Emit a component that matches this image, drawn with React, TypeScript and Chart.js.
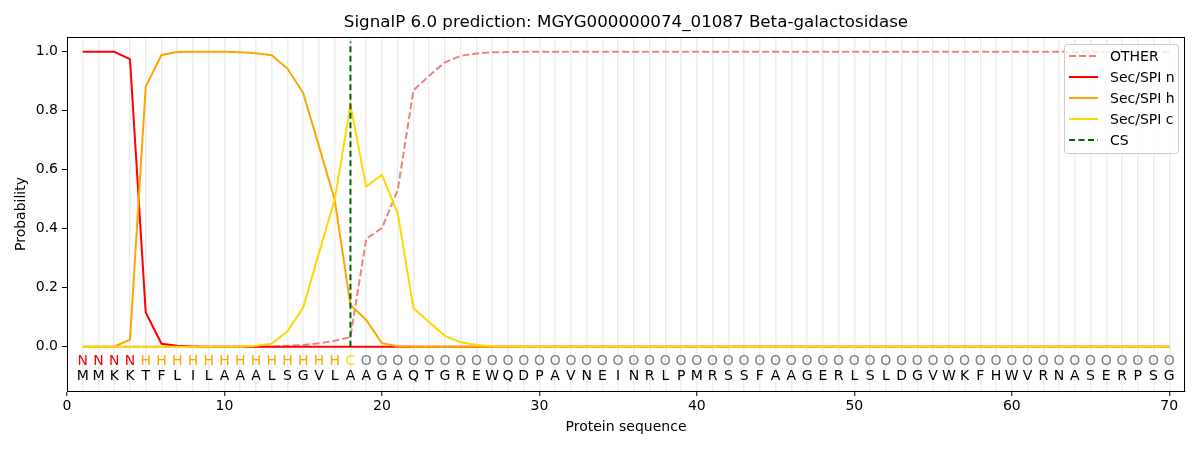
import { useEffect, useRef } from "react";
import { Chart, ChartConfiguration, Plugin, registerables } from "chart.js";
Chart.register(...registerables);

const FONT = "'DejaVu Sans', 'Liberation Sans', sans-serif";

const title = "SignalP 6.0 prediction: MGYG000000074_01087 Beta-galactosidase";

// amino acid sequence, one residue per position 1..70
const sequence = "MMKKTFLILAAALSGVLAAGAQTGREWQDPAVNEINRLPMRSSFAAGERLSLDGVWKFHWVRNASERPSG".split("");

// predicted region per residue
const regions = (
  "NNNNHHHHHHHHHHHHHC" +
  "OOOOOOOOOOOOOOOOOOOOOOOOOOOOOOOOOOOOOOOOOOOOOOOOOOOO"
).split("");

const regionColors: Record<string, string> = {
  N: "#ff0000",
  H: "#ffa500",
  C: "#ffd700",
  O: "#808080",
};

const other = [
  0, 0, 0, 0, 0, 0, 0, 0, 0, 0,
  0, 0, 0.001, 0.003, 0.006, 0.012, 0.02, 0.033, 0.366, 0.402,
  0.53, 0.869, 0.919, 0.964, 0.986, 0.994, 0.998, 0.999, 1, 1,
  1, 1, 1, 1, 1, 1, 1, 1, 1, 1,
  1, 1, 1, 1, 1, 1, 1, 1, 1, 1,
  1, 1, 1, 1, 1, 1, 1, 1, 1, 1,
  1, 1, 1, 1, 1, 1, 1, 1, 1, 1,
];

const secN = [
  1, 1, 1, 0.975, 0.116, 0.01, 0.003, 0.001, 0, 0,
  0, 0, 0, 0, 0, 0, 0, 0, 0, 0,
  0, 0, 0, 0, 0, 0, 0, 0, 0, 0,
  0, 0, 0, 0, 0, 0, 0, 0, 0, 0,
  0, 0, 0, 0, 0, 0, 0, 0, 0, 0,
  0, 0, 0, 0, 0, 0, 0, 0, 0, 0,
  0, 0, 0, 0, 0, 0, 0, 0, 0, 0,
];

const secH = [
  0, 0, 0, 0.024, 0.882, 0.989, 0.999, 1, 1, 1,
  0.998, 0.995, 0.988, 0.943, 0.86, 0.68, 0.498, 0.142, 0.091, 0.012,
  0.002, 0, 0, 0, 0, 0, 0, 0, 0, 0,
  0, 0, 0, 0, 0, 0, 0, 0, 0, 0,
  0, 0, 0, 0, 0, 0, 0, 0, 0, 0,
  0, 0, 0, 0, 0, 0, 0, 0, 0, 0,
  0, 0, 0, 0, 0, 0, 0, 0, 0, 0,
];

const secC = [
  0, 0, 0, 0, 0, 0, 0, 0, 0, 0,
  0, 0.003, 0.01, 0.052, 0.133, 0.318, 0.498, 0.82, 0.543, 0.583,
  0.453, 0.131, 0.083, 0.037, 0.015, 0.006, 0.002, 0.001, 0, 0,
  0, 0, 0, 0, 0, 0, 0, 0, 0, 0,
  0, 0, 0, 0, 0, 0, 0, 0, 0, 0,
  0, 0, 0, 0, 0, 0, 0, 0, 0, 0,
  0, 0, 0, 0, 0, 0, 0, 0, 0, 0,
];

// cleavage site
const csPosition = 18;
const csSpan = [0, 1.035];

const yTicks = [0, 0.2, 0.4, 0.6, 0.8, 1.0];

const legendItems = [
  { label: "OTHER", color: "#f08080", dash: [7, 3] },
  { label: "Sec/SPI n", color: "#ff0000", dash: [] },
  { label: "Sec/SPI h", color: "#ffa500", dash: [] },
  { label: "Sec/SPI c", color: "#ffd700", dash: [] },
  { label: "CS", color: "#006400", dash: [6, 3.5] },
];

const toPoints = (vals: number[]) => vals.map((y, i) => ({ x: i + 1, y }));

// frame, residue letters, titles and legend
const decorations: Plugin<"line"> = {
  id: "decorations",
  afterDraw(chart) {
    const { ctx, chartArea } = chart;
    const xs = chart.scales.x;
    const ys = chart.scales.y;
    ctx.save();

    // frame (top/right spines)
    ctx.strokeStyle = "#000";
    ctx.lineWidth = 1;
    ctx.strokeRect(chartArea.left + 0.5, chartArea.top + 0.5, chartArea.width - 1, chartArea.height);

    // residue rows
    ctx.font = `14px ${FONT}`;
    ctx.textAlign = "center";
    ctx.textBaseline = "middle";
    sequence.forEach((aa, i) => {
      const px = xs.getPixelForValue(i + 1);
      ctx.fillStyle = regionColors[regions[i]];
      ctx.fillText(regions[i], px, ys.getPixelForValue(-0.05));
      ctx.fillStyle = "#000";
      ctx.fillText(aa, px, ys.getPixelForValue(-0.1));
    });

    // title and axis titles
    const midX = (chartArea.left + chartArea.right) / 2;
    ctx.font = `16.7px ${FONT}`;
    ctx.fillText(title, midX, 23);
    ctx.font = `14px ${FONT}`;
    ctx.fillText("Protein sequence", midX, 427);
    ctx.save();
    ctx.translate(21, (chartArea.top + chartArea.bottom) / 2);
    ctx.rotate(-Math.PI / 2);
    ctx.fillText("Probability", 0, 0);
    ctx.restore();

    // legend
    const bx = chartArea.right - 121;
    const by = chartArea.top + 7;
    const bw = 114;
    const bh = 109;
    ctx.beginPath();
    ctx.roundRect(bx + 0.5, by + 0.5, bw, bh, 3);
    ctx.fillStyle = "rgba(255,255,255,0.8)";
    ctx.fill();
    ctx.strokeStyle = "#cccccc";
    ctx.stroke();
    ctx.textAlign = "left";
    legendItems.forEach((item, i) => {
      const y = by + 12 + i * 21;
      ctx.beginPath();
      ctx.setLineDash(item.dash);
      ctx.strokeStyle = item.color;
      ctx.lineWidth = 2;
      ctx.moveTo(bx + 5, y);
      ctx.lineTo(bx + 34, y);
      ctx.stroke();
      ctx.setLineDash([]);
      ctx.fillStyle = "#000";
      ctx.fillText(item.label, bx + 46, y + 1);
    });
    ctx.restore();
  },
};

const App = () => {
  const canvasRef = useRef<HTMLCanvasElement>(null);
  const chartRef = useRef<Chart<"line"> | null>(null);

  useEffect(() => {
    document.body.style.margin = "0";
    if (chartRef.current) chartRef.current.destroy();
    const ctx = canvasRef.current?.getContext("2d");
    if (!ctx) return;

    const line = (label: string, data: number[], color: string, order: number, dash: number[] = []) => ({
      label,
      data: toPoints(data),
      borderColor: color,
      borderWidth: 2,
      borderDash: dash,
      pointRadius: 0,
      tension: 0,
      order,
    });

    const config: ChartConfiguration<"line"> = {
      type: "line",
      data: {
        datasets: [
          line("OTHER", other, "#f08080", 5, [7, 3]),
          line("Sec/SPI n", secN, "#ff0000", 4),
          line("Sec/SPI h", secH, "#ffa500", 3),
          line("Sec/SPI c", secC, "#ffd700", 2),
          {
            label: "CS",
            data: csSpan.map((y) => ({ x: csPosition, y })),
            borderColor: "#006400",
            borderWidth: 2,
            borderDash: [6, 3.5],
            pointRadius: 0,
            order: 1,
          },
        ],
      },
      options: {
        responsive: false,
        animation: false,
        layout: { padding: { left: 0, top: 37, right: 15, bottom: 0 } },
        plugins: {
          legend: { display: false },
          title: { display: false },
          tooltip: { enabled: false },
        },
        scales: {
          x: {
            type: "linear",
            min: 0,
            max: 71,
            afterFit: (scale) => {
              scale.height = 59;
            },
            ticks: {
              stepSize: 1,
              autoSkip: false,
              maxRotation: 0,
              padding: 2,
              color: "#000",
              font: { family: FONT, size: 14 },
              callback: (v) => (Number(v) % 10 === 0 ? String(v) : ""),
            },
            grid: {
              color: (c) => {
                const v = c.tick?.value ?? 0;
                return v >= 1 && v <= 70 ? "rgba(0,0,0,0.07)" : "transparent";
              },
              lineWidth: 1.5,
              tickColor: (c) => ((c.tick?.value ?? 1) % 10 === 0 ? "#000" : "transparent"),
              tickLength: 5,
              tickWidth: 1,
            },
            border: { display: true, color: "#000", width: 1 },
          },
          y: {
            type: "linear",
            min: -0.15,
            max: 1.05,
            afterFit: (scale) => {
              scale.width = 67;
            },
            afterBuildTicks: (scale) => {
              scale.ticks = yTicks.map((value) => ({ value }));
            },
            ticks: {
              padding: 4,
              color: "#000",
              font: { family: FONT, size: 14 },
              callback: (v) => Number(v).toFixed(1),
            },
            grid: {
              drawOnChartArea: false,
              tickColor: "#000",
              tickLength: 5,
              tickWidth: 1,
            },
            border: { display: true, color: "#000", width: 1 },
          },
        },
      },
      plugins: [decorations],
    };

    chartRef.current = new Chart(ctx, config);

    return () => {
      if (chartRef.current) {
        chartRef.current.destroy();
        chartRef.current = null;
      }
    };
  }, []);

  return (
    <div style={{ width: 1200, height: 450, background: "#fff" }}>
      <canvas ref={canvasRef} width={1200} height={450}></canvas>
    </div>
  );
};

export default App;
